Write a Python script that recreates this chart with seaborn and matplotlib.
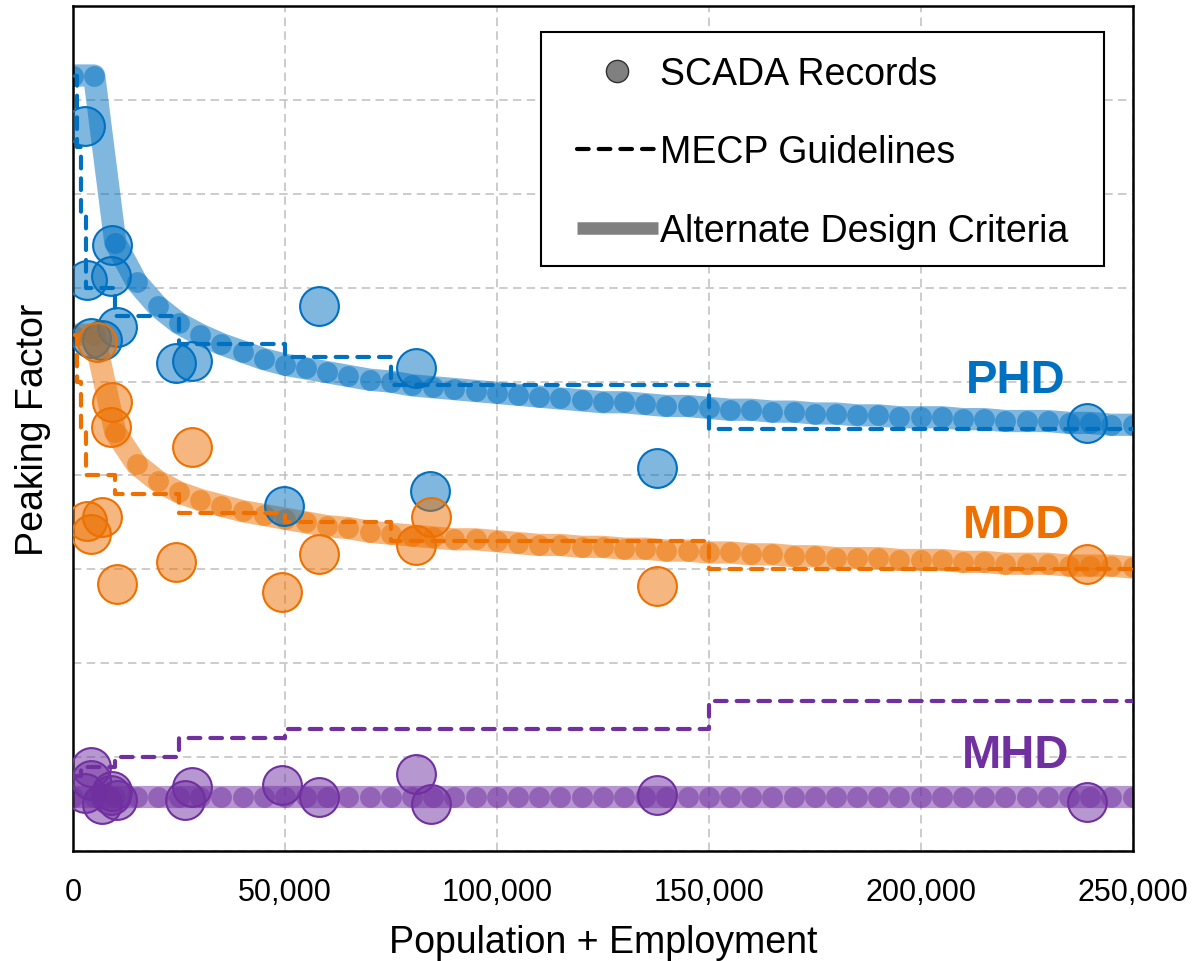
import matplotlib
matplotlib.use("Agg")
import matplotlib.pyplot as plt
from matplotlib.lines import Line2D
from matplotlib.patches import Rectangle
from matplotlib.ticker import FuncFormatter, MultipleLocator
import seaborn as sns

# SCADA records (population + employment, peaking factor)
phd_x = [2800, 3300, 4200, 6800, 8900, 9200, 10400, 24300, 28100, 49700, 58000, 80900, 84300, 137700, 239300]
phd_y = [3.86, 3.04, 2.73, 2.72, 3.06, 3.23, 2.79, 2.60, 2.61, 1.84, 2.90, 2.57, 1.92, 2.04, 2.28]

mdd_x = [3300, 4200, 5700, 6800, 8900, 9200, 10400, 24300, 28100, 49300, 58000, 80900, 84400, 137700, 239300]
mdd_y = [1.76, 1.69, 2.71, 1.78, 2.26, 2.39, 1.42, 1.54, 2.15, 1.38, 1.58, 1.63, 1.78, 1.41, 1.53]

mhd_x = [2800, 4200, 4200, 6800, 8900, 9200, 10400, 26400, 28100, 49300, 58000, 80900, 84400, 137700, 239300]
mhd_y = [0.31, 0.45, 0.38, 0.25, 0.30, 0.32, 0.27, 0.27, 0.34, 0.35, 0.29, 0.41, 0.25, 0.30, 0.26]

# MECP guideline steps
mecp_x = [500, 1000, 2000, 3000, 10000, 25000, 50000, 75000, 150000, 250000]
mecp_phd = [4.13, 3.75, 3.38, 3.00, 2.85, 2.70, 2.63, 2.48, 2.25, 2.25]
mecp_mdd = [2.75, 2.50, 2.25, 2.00, 1.90, 1.80, 1.75, 1.65, 1.50, 1.50]
mecp_mhd = [0.40, 0.40, 0.45, 0.45, 0.50, 0.60, 0.65, 0.65, 0.80, 0.80]

# alternate design criteria curves, every 5,000
curve_x = list(range(0, 250001, 5000))
alt_phd = [4.13, 4.13, 3.24, 3.03, 2.90, 2.81, 2.75, 2.70, 2.66, 2.62,
           2.59, 2.57, 2.55, 2.53, 2.51, 2.50, 2.48, 2.47, 2.46, 2.45,
           2.44, 2.43, 2.42, 2.41, 2.40, 2.39, 2.39, 2.38, 2.37, 2.37,
           2.36, 2.35, 2.35, 2.34, 2.34, 2.33, 2.33, 2.32, 2.32, 2.31,
           2.31, 2.31, 2.30, 2.30, 2.29, 2.29, 2.29, 2.28, 2.28, 2.27, 2.27]
alt_mdd = [2.75, 2.75, 2.23, 2.06, 1.97, 1.91, 1.87, 1.84, 1.81, 1.79,
           1.77, 1.75, 1.73, 1.72, 1.70, 1.69, 1.68, 1.67, 1.66, 1.66,
           1.65, 1.64, 1.63, 1.63, 1.62, 1.62, 1.61, 1.61, 1.60, 1.60,
           1.59, 1.59, 1.58, 1.58, 1.57, 1.57, 1.56, 1.56, 1.56, 1.55,
           1.55, 1.55, 1.54, 1.54, 1.53, 1.53, 1.53, 1.52, 1.52, 1.52, 1.51]
alt_mhd = [0.29] * len(curve_x)

series = [
    ("PHD", "#0070C0", phd_x, phd_y, mecp_phd, alt_phd, 2.444),
    ("MDD", "#ED7000", mdd_x, mdd_y, mecp_mdd, alt_mdd, 1.672),
    ("MHD", "#7030A0", mhd_x, mhd_y, mecp_mhd, alt_mhd, 0.447),
]

sns.set_style("white")
plt.rcParams["font.family"] = ["Liberation Sans", "DejaVu Sans"]
plt.rcParams["text.color"] = "black"
plt.rcParams["axes.labelcolor"] = "black"
plt.rcParams["xtick.color"] = "black"

fig, ax = plt.subplots(figsize=(11.96, 9.62), dpi=100)
fig.subplots_adjust(left=0.061, right=0.947, bottom=0.1143, top=0.9927)

for name, color, px, py, mecp, alt, label_y in series:
    sns.lineplot(x=curve_x, y=alt, color=color, linewidth=16, alpha=0.5,
                 marker="o", markersize=15, markeredgewidth=0,
                 estimator=None, ax=ax, zorder=2)
    face = matplotlib.colors.to_rgba(color, 0.5)
    sns.scatterplot(x=px, y=py, s=780, facecolor=face, edgecolor=color,
                    linewidth=1.5, ax=ax, zorder=3)
    sns.lineplot(x=mecp_x, y=mecp, color=color, linewidth=3,
                 drawstyle="steps-post", linestyle=(0, (2.8, 2.4)),
                 dash_capstyle="round", estimator=None, ax=ax, zorder=4)
    ax.text(222500, label_y, name, color=color, fontsize=34, fontweight="bold",
            family=["Liberation Sans Narrow", "Liberation Sans"],
            ha="center", va="baseline")

ax.set_xlim(0, 250000)
ax.set_ylim(0, 4.5)
ax.xaxis.set_major_locator(MultipleLocator(50000))
ax.yaxis.set_major_locator(MultipleLocator(0.5))
ax.xaxis.set_major_formatter(FuncFormatter(lambda v, p: f"{int(v):,}"))
ax.tick_params(axis="both", length=0)
ax.tick_params(axis="x", labelsize=22, pad=19, labelcolor="black")
ax.tick_params(axis="y", labelleft=False)
ax.grid(True, color="#BFBFBF", linestyle=(0, (5.5, 3.5)), linewidth=1.1)
ax.set_axisbelow(True)
for s in ax.spines.values():
    s.set_visible(True)
    s.set_color("black")
    s.set_linewidth(1.8)

ax.set_xlabel("Population + Employment", fontsize=27, labelpad=12, color="black")
ax.set_ylabel("Peaking Factor", fontsize=27, labelpad=16, color="black")

# legend box
ax.add_patch(Rectangle((0.4415, 0.6923), 0.5311, 0.2769, transform=ax.transAxes,
                       facecolor="white", edgecolor="black", linewidth=1.5, zorder=4.5))
handles = [
    Line2D([], [], linestyle="none", marker="o", markersize=16,
           markerfacecolor="#808080", markeredgecolor="#303030", markeredgewidth=1),
    Line2D([], [], color="black", linewidth=3, linestyle=(0, (2.8, 2.4)),
           dash_capstyle="round"),
    Line2D([], [], color="#808080", linewidth=9, solid_capstyle="butt"),
]
labels = ["SCADA Records", "MECP Guidelines", "Alternate Design Criteria"]
leg = ax.legend(handles, labels, loc="upper left", bbox_to_anchor=(0.4755, 0.941),
                frameon=False, borderpad=0, borderaxespad=0, handlelength=2.16,
                handletextpad=0.05, labelspacing=1.13, fontsize=27)
for t in leg.get_texts():
    t.set_color("black")

fig.savefig("out.png", dpi=100)
